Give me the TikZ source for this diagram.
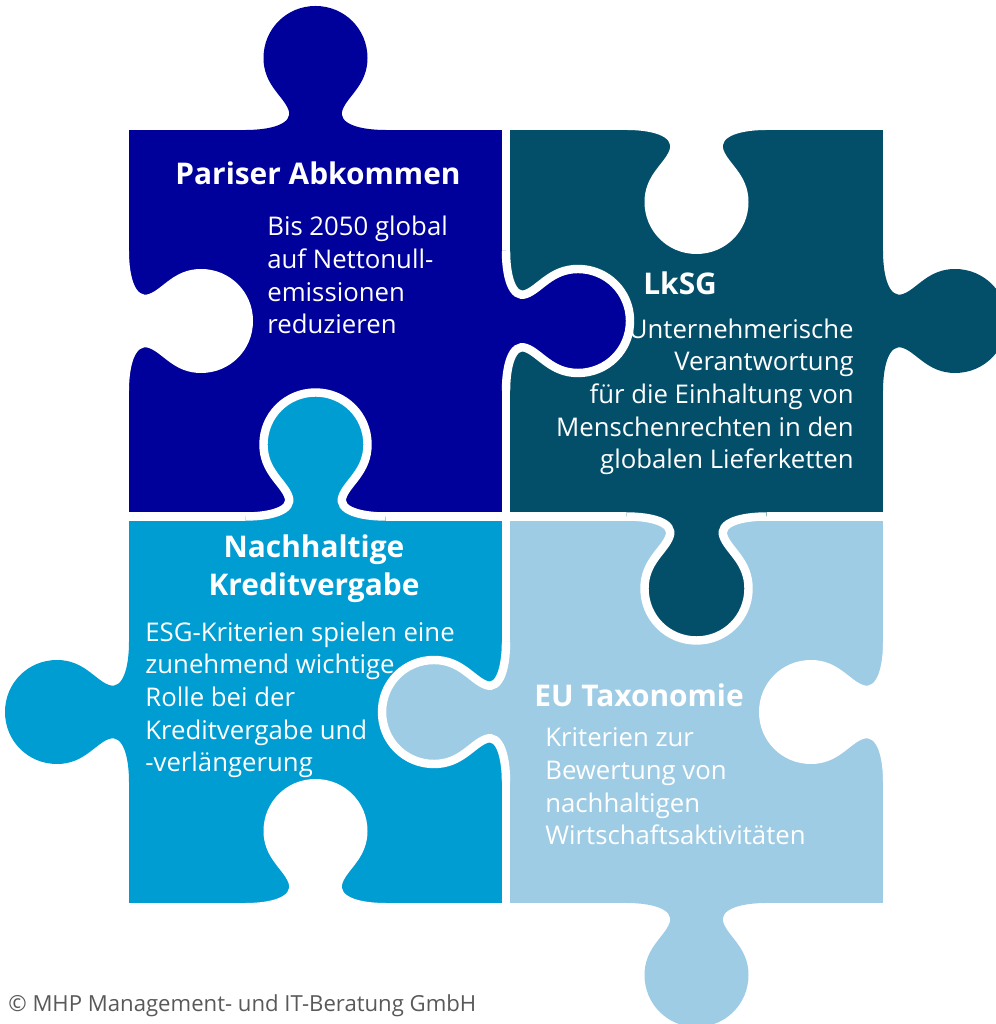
\documentclass[tikz,border=0pt]{standalone}
\usepackage{fontspec}
\setmainfont{Open Sans}
\usepackage{tikz}

\definecolor{pariserblue}{HTML}{00009A}
\definecolor{lksgteal}{HTML}{034F6A}
\definecolor{kreditblue}{HTML}{009DD3}
\definecolor{taxoblue}{HTML}{9FCCE5}
\definecolor{copygray}{HTML}{595959}

\tikzstyle{headline} = [text=white, font=\bfseries\fontsize{17}{21.8}\selectfont, inner sep=0pt, align=center]
\tikzstyle{bodytext} = [text=white, font=\fontsize{14.65}{18.6}\selectfont, inner sep=0pt]
\tikzstyle{gapline} = [white, line width=4.8pt]
\tikzstyle{copyright} = [text=copygray, font=\fontsize{12.6}{15}\selectfont, inner sep=0pt]

% puzzle knob: x, y, rotation, fill, outline
\newcommand{\knob}[5]{%
  \begin{scope}[shift={(#1,#2)}, rotate=#3]
    \fill[#4] (-70,-8) -- (-70,0) .. controls (-45,0) and (-22,6) .. (-27,20)
      .. controls (-32,34) and (-52,45) .. (-52,72)
      .. controls (-52,101) and (-29,124) .. (0,124)
      .. controls (29,124) and (52,101) .. (52,72)
      .. controls (52,45) and (32,34) .. (27,20)
      .. controls (22,6) and (45,0) .. (70,0) -- (70,-8) -- cycle;
    \draw[#5] (-70,0) .. controls (-45,0) and (-22,6) .. (-27,20)
      .. controls (-32,34) and (-52,45) .. (-52,72)
      .. controls (-52,101) and (-29,124) .. (0,124)
      .. controls (29,124) and (52,101) .. (52,72)
      .. controls (52,45) and (32,34) .. (27,20)
      .. controls (22,6) and (45,0) .. (70,0);
  \end{scope}}

\begin{document}
\begin{tikzpicture}[x=0.02cm, y=0.02cm]

\useasboundingbox (0,0) rectangle (995,1024);

% the four squares
\fill[pariserblue] (129,512) rectangle (502,894);
\fill[lksgteal] (510,512) rectangle (883,894);
\fill[kreditblue] (129,121) rectangle (502,503);
\fill[taxoblue] (510,121) rectangle (883,503);

% holes on the outside
\knob{129}{703}{-90}{white}{draw=none}
\knob{696.5}{894}{180}{white}{draw=none}
\knob{315.5}{121}{0}{white}{draw=none}
\knob{883}{312}{90}{white}{draw=none}

% knobs
\knob{315.5}{894}{0}{pariserblue}{draw=none}
\knob{506}{703}{-90}{pariserblue}{gapline}
\knob{883}{703}{-90}{lksgteal}{draw=none}
\knob{696.5}{507.5}{180}{lksgteal}{gapline}
\knob{315.5}{507.5}{0}{kreditblue}{gapline}
\knob{129}{312}{90}{kreditblue}{draw=none}
\knob{506}{312}{90}{taxoblue}{gapline}
\knob{696.5}{121}{180}{taxoblue}{draw=none}

% texts (base = last line)
\node (pariser) [headline, anchor=base] at (318,839) {Pariser Abkommen};
\node (parisertext) [bodytext, anchor=base west, align=left] at (267,690)
  {Bis 2050 global\\auf Nettonull-\\emissionen\\reduzieren};
\node (lksg) [headline, anchor=base west] at (643,729) {LkSG};
\node (lksgtext) [bodytext, anchor=base east, align=right] at (854,555)
  {Unternehmerische\\Verantwortung\\für die Einhaltung von\\Menschenrechten in den\\globalen Lieferketten};
\node (kredit) [headline, anchor=base] at (314,428.5) {Nachhaltige\\Kreditvergabe};
\node (kredittext) [bodytext, anchor=base west, align=left] at (145,252)
  {ESG-Kriterien spielen eine\\zunehmend wichtige\\Rolle bei der\\Kreditvergabe und\\-verlängerung};
\node (taxo) [headline, anchor=base west] at (534,317) {EU Taxonomie};
\node (taxotext) [bodytext, anchor=base west, align=left] at (545,179)
  {Kriterien zur\\Bewertung von\\nachhaltigen\\Wirtschaftsaktivitäten};
\node (copy) [copyright, anchor=base west] at (8,12) {© MHP Management- und IT-Beratung GmbH};

\end{tikzpicture}
\end{document}
